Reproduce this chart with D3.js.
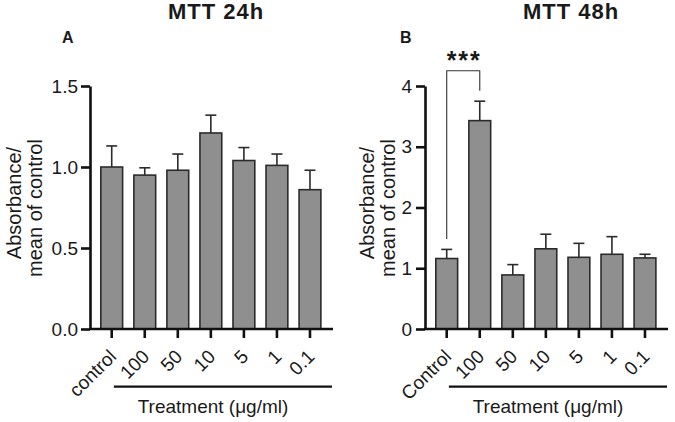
<!DOCTYPE html>
<html>
<head>
<meta charset="utf-8">
<script src="https://cdn.jsdelivr.net/npm/d3@7"></script>
<style>
  body { margin: 0; background: #fff; }
  text { font-family: "Liberation Sans", Arial, sans-serif; fill: #1a1a1a; }
  .axis path, .axis line { stroke: #111; stroke-width: 2.6; }
  .axis text { font-size: 19px; }
</style>
</head>
<body>
<div id="chart"></div>
<script>
// data (mean and upper SD of absorbance / mean of control)
var categoriesA = ["control", "100", "50", "10", "5", "1", "0.1"];
var meansA = [1.00, 0.95, 0.98, 1.21, 1.04, 1.01, 0.86];
var sdA = [0.13, 0.045, 0.10, 0.11, 0.08, 0.07, 0.12];
var ticksA = [0, 0.5, 1.0, 1.5];

var categoriesB = ["Control", "100", "50", "10", "5", "1", "0.1"];
var meansB = [1.16, 3.43, 0.89, 1.32, 1.18, 1.23, 1.17];
var sdB = [0.15, 0.32, 0.17, 0.24, 0.23, 0.29, 0.06];
var ticksB = [0, 1, 2, 3, 4];

// significance bracket in panel B (value units)
var bracketB = { from: "Control", to: "100", top: 4.25, leftEnd: 1.48, rightEnd: 3.92, label: "***" };

var svgWidth = 675;
var svgHeight = 422;

var svg = d3.select("#chart")
  .append("svg")
  .attr("width", svgWidth)
  .attr("height", svgHeight);

// draws one panel
function drawPanel(p) {
  var g = svg.append("g");

  var y = d3.scaleLinear().domain(p.yDomain).range([329, 86]);
  var x = d3.scaleBand()
    .domain(p.categories)
    .range([p.axisX + 5.2, p.axisX + 236.5])
    .paddingInner(0.34)
    .paddingOuter(0.17);

  var data = p.categories.map(function(c, i) {
    return { cat: c, mean: p.means[i], sd: p.sd[i] };
  });

  // bars
  g.selectAll("rect.bar")
    .data(data)
    .enter()
    .append("rect")
    .attr("class", "bar")
    .attr("x", d => x(d.cat))
    .attr("width", x.bandwidth())
    .attr("y", d => y(d.mean))
    .attr("height", d => y(0) - y(d.mean))
    .attr("fill", "#8f8f8f")
    .attr("stroke", "#2b2b2b")
    .attr("stroke-width", 1.6);

  // error bars, upper only
  var err = g.selectAll("g.err").data(data).enter().append("g").attr("class", "err");
  err.append("line")
    .attr("x1", d => x(d.cat) + x.bandwidth() / 2)
    .attr("x2", d => x(d.cat) + x.bandwidth() / 2)
    .attr("y1", d => y(d.mean))
    .attr("y2", d => y(d.mean + d.sd))
    .attr("stroke", "#2b2b2b").attr("stroke-width", 1.6);
  err.append("line")
    .attr("x1", d => x(d.cat) + x.bandwidth() / 2 - 5.5)
    .attr("x2", d => x(d.cat) + x.bandwidth() / 2 + 5.5)
    .attr("y1", d => y(d.mean + d.sd))
    .attr("y2", d => y(d.mean + d.sd))
    .attr("stroke", "#2b2b2b").attr("stroke-width", 1.6);

  // y axis
  var yAxis = g.append("g")
    .attr("class", "axis")
    .attr("transform", `translate(${p.axisX}, 0)`)
    .call(d3.axisLeft(y).tickValues(p.ticks).tickFormat(p.fmt).tickSize(9).tickSizeOuter(0).tickPadding(p.tickPad));
  yAxis.selectAll("text").attr("fill", "#1a1a1a");

  // x axis
  var xAxis = g.append("g")
    .attr("class", "axis")
    .attr("transform", `translate(0, ${y(0)})`)
    .call(d3.axisBottom(x).tickSize(9).tickSizeOuter(0));
  xAxis.select(".domain").attr("d", `M${p.axisX - 1},0H${p.axisX + 243}`);
  xAxis.selectAll("text")
    .attr("text-anchor", "end")
    .attr("x", 0)
    .attr("y", 0)
    .attr("dy", "0.35em")
    .attr("transform", "translate(1, 24) rotate(-45)")
    .attr("fill", "#1a1a1a");

  // y label, two lines
  var ylab = g.append("text")
    .attr("transform", "rotate(-90)")
    .attr("text-anchor", "middle")
    .style("font-size", "20px");
  ylab.append("tspan").attr("x", -203).attr("y", p.labelX).text("Absorbance/");
  ylab.append("tspan").attr("x", -208).attr("y", p.labelX + 21).text("mean of control");

  // treatment line + label
  var tx0 = x(p.categories[1]) - 20;
  g.append("line")
    .attr("x1", tx0).attr("x2", p.axisX + 242)
    .attr("y1", 386.7).attr("y2", 386.7)
    .attr("stroke", "#111").attr("stroke-width", 2.2);
  g.append("text")
    .attr("x", p.axisX + 123)
    .attr("y", 413)
    .attr("text-anchor", "middle")
    .style("font-size", "19px")
    .text("Treatment (\u03BCg/ml)");

  // title and panel letter
  g.append("text")
    .attr("x", p.titleX).attr("y", 19)
    .attr("text-anchor", "middle")
    .style("font-size", "22px").style("font-weight", "bold")
    .style("letter-spacing", "1px")
    .text(p.title);
  g.append("text")
    .attr("x", p.letterX).attr("y", 43)
    .style("font-size", "16px").style("font-weight", "bold")
    .text(p.letter);

  if (p.bracket) {
    var b = p.bracket;
    var bx1 = x(b.from) + x.bandwidth() / 2;
    var bx2 = x(b.to) + x.bandwidth() / 2;
    g.append("path")
      .attr("d", `M${bx1},${y(b.leftEnd)}V${y(b.top)}H${bx2}V${y(b.rightEnd)}`)
      .attr("fill", "none")
      .attr("stroke", "#333")
      .attr("stroke-width", 1.1);
    g.append("text")
      .attr("x", (bx1 + bx2) / 2 + 1)
      .attr("y", 69)
      .attr("text-anchor", "middle")
      .style("font-size", "25px").style("font-weight", "bold")
      .style("letter-spacing", "2px")
      .text(b.label);
  }
}

drawPanel({
  categories: categoriesA, means: meansA, sd: sdA, ticks: ticksA,
  yDomain: [0, 1.5], fmt: d3.format(".1f"), axisX: 90, tickPad: 3,
  labelX: 21, title: "MTT 24h", titleX: 216, letter: "A", letterX: 62
});

drawPanel({
  categories: categoriesB, means: meansB, sd: sdB, ticks: ticksB,
  yDomain: [0, 4], fmt: d3.format("d"), axisX: 425, tickPad: 4,
  labelX: 374, title: "MTT 48h", titleX: 571, letter: "B", letterX: 400,
  bracket: bracketB
});
</script>
</body>
</html>
